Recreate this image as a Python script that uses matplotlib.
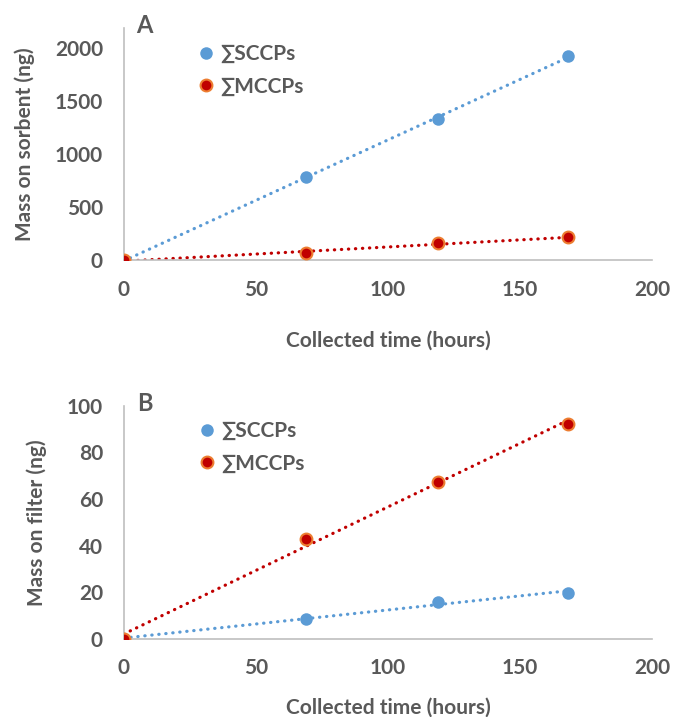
import numpy as np
import matplotlib
matplotlib.use("Agg")
import matplotlib.pyplot as plt
from matplotlib.lines import Line2D

# collected time (hours)
hours = [0, 69, 119, 168]

# panel A: mass on sorbent (ng)
sorbent_sccp = [0, 783, 1330, 1925]
sorbent_mccp = [0, 66, 160, 217]

# panel B: mass on filter (ng)
filter_sccp = [0, 8.6, 16, 19.7]
filter_mccp = [0, 43, 67.5, 92]

series_names = ["∑SCCPs", "∑MCCPs"]

plt.rcParams['font.family'] = ['Lato', 'DejaVu Sans']
plt.rcParams['font.weight'] = 'bold'

TXT = '#595959'
AXC = '#BFBFBF'
BLUE = '#5B9BD5'
RED = '#C00000'
ORANGE = '#ED7D31'
FS = 15

fig = plt.figure(figsize=(6.73, 7.17), dpi=100)
ax_a = fig.add_axes([0.184, 0.637, 0.785, 0.324])
ax_b = fig.add_axes([0.184, 0.109, 0.785, 0.325])


def draw_panel(ax, sccp, mccp, ylim, yticks, ylabel, leg_anchor):
    x = np.array(hours, dtype=float)
    xx = np.array([0, max(hours)], dtype=float)
    # Excel-style linear trendlines, round dotted
    for vals, col in [(sccp, BLUE), (mccp, RED)]:
        k, b = np.polyfit(x, vals, 1)
        ax.plot(xx, k * xx + b, linestyle=(0, (0.1, 2.1)), color=col, linewidth=2.3,
                dash_capstyle='round', zorder=2)
    ax.plot(x, sccp, 'o', color=BLUE, markersize=9, markeredgewidth=0, zorder=3)
    ax.plot(x, mccp, 'o', color=RED, markersize=8.5, markeredgecolor=ORANGE,
            markeredgewidth=1.5, zorder=4)
    ax.set_xlim(0, 200)
    ax.set_ylim(*ylim)
    ax.set_xticks([0, 50, 100, 150, 200])
    ax.set_yticks(yticks)
    for s in ['top', 'right']:
        ax.spines[s].set_visible(False)
    for s in ['left', 'bottom']:
        ax.spines[s].set_color(AXC)
        ax.spines[s].set_linewidth(1.2)
    ax.tick_params(axis='both', length=0, labelsize=FS, labelcolor=TXT)
    ax.tick_params(axis='y', pad=15)
    ax.tick_params(axis='x', pad=14)
    ax.set_ylabel(ylabel, fontsize=FS, color=TXT, fontweight='bold', labelpad=14)
    handles = [
        Line2D([], [], marker='o', linestyle='none', color=BLUE, markersize=9, markeredgewidth=0),
        Line2D([], [], marker='o', linestyle='none', color=RED, markersize=8.5,
               markeredgecolor=ORANGE, markeredgewidth=1.5),
    ]
    leg = ax.legend(handles, series_names, loc='upper left', bbox_to_anchor=leg_anchor,
                    frameon=False, fontsize=FS, handletextpad=0.1, labelspacing=0.6,
                    handlelength=1.2)
    for t in leg.get_texts():
        t.set_color(TXT)


draw_panel(ax_a, sorbent_sccp, sorbent_mccp, (0, 2190), [0, 500, 1000, 1500, 2000],
           'Mass on sorbent (ng)', (0.096, 1.012))
draw_panel(ax_b, filter_sccp, filter_mccp, (0, 100), [0, 20, 40, 60, 80, 100],
           'Mass on filter (ng)', (0.098, 1.015))

ax_a.set_xlabel('Collected time (hours)', fontsize=FS, color=TXT, fontweight='bold', labelpad=22)
ax_b.set_xlabel('Collected time (hours)', fontsize=FS, color=TXT, fontweight='bold', labelpad=14)

fig.text(0.215, 0.965, 'A', fontsize=17, fontweight='bold', color=TXT, ha='center', va='center')
fig.text(0.215, 0.437, 'B', fontsize=17, fontweight='bold', color=TXT, ha='center', va='center')

fig.savefig('out.png', dpi=100)
